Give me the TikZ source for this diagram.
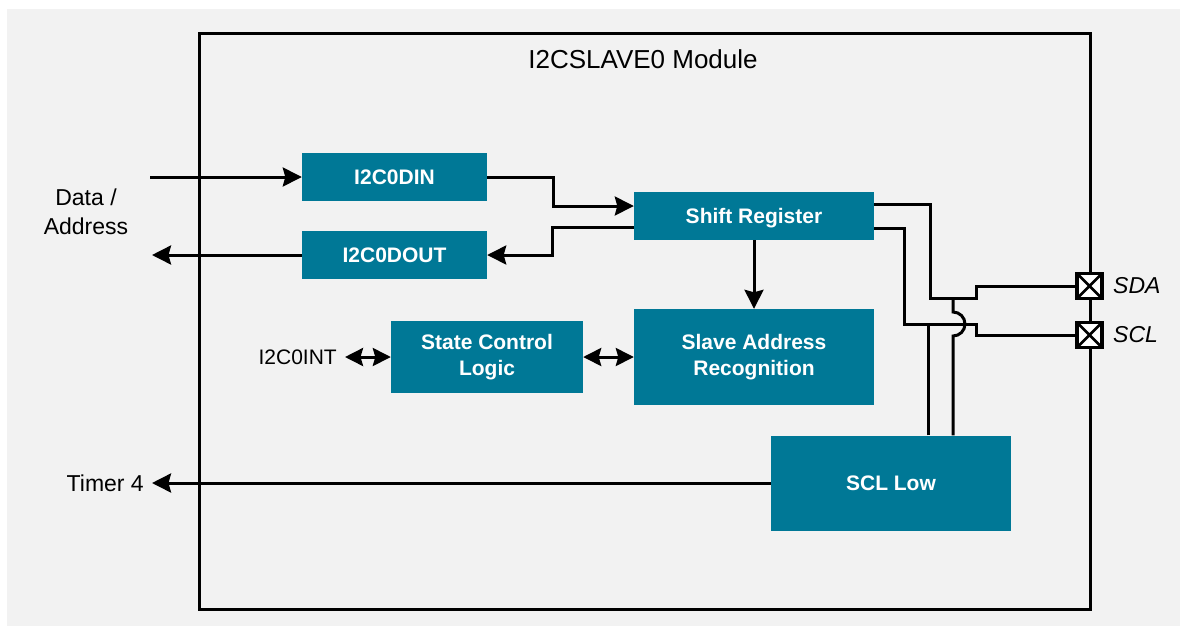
\documentclass[tikz,border=0pt]{standalone}
\usepackage{fontspec}
\setmainfont{Liberation Sans}
\usetikzlibrary{arrows.meta}
\definecolor{tiC}{RGB}{0,120,150}
\definecolor{bgG}{HTML}{F2F2F2}
\tikzset{
  box/.style={fill=tiC, text=white, font=\bfseries\fontsize{21}{26}\selectfont, align=center, inner sep=0pt},
  wire/.style={line width=3pt, line join=miter},
  arr/.style={wire, -{Stealth[length=19pt,width=19pt,inset=2.5pt]}},
  darr/.style={wire, {Stealth[length=18pt,width=18pt,inset=2.5pt]}-{Stealth[length=18pt,width=18pt,inset=2.5pt]}},
  lbl/.style={font=\fontsize{23}{29}\selectfont, align=center},
  pad/.style={draw, fill=white, line width=3.4pt, minimum size=25pt, inner sep=0pt,
    path picture={\draw[line width=2.6pt] (path picture bounding box.south west) -- (path picture bounding box.north east)
      (path picture bounding box.north west) -- (path picture bounding box.south east);}}
}
\begin{document}
\begin{tikzpicture}[x=1pt,y=-1pt]
\useasboundingbox (0,0) rectangle (1180,625);
\fill[white] (-5,-5) rectangle (1185,630);
\fill[bgG] (7,9) rectangle (1185,630);

% module
\node[draw, line width=3pt, minimum width=891pt, minimum height=576pt, inner sep=0pt] (module) at (644.5,321) {};
\node[font=\fontsize{26}{30}\selectfont] (title) at (643,59) {I2CSLAVE0 Module};

% blocks
\node[box, minimum width=185pt, minimum height=48pt] (din) at (394.5,177) {I2C0DIN};
\node[box, minimum width=185pt, minimum height=48pt] (dout) at (394.5,255) {I2C0DOUT};
\node[box, minimum width=240pt, minimum height=48pt, text depth=0pt] (shift) at (754,216) {Shift Register};
\node[box, minimum width=240pt, minimum height=96pt] (slave) at (754,357) {Slave Address\\Recognition};
\node[box, minimum width=192pt, minimum height=72pt] (state) at (487,357) {State Control\\Logic};
\node[box, minimum width=240pt, minimum height=95pt] (scllow) at (891,483) {SCL Low};

% labels
\node[lbl] (data) at (86,212) {Data /\\Address};
\node[font=\fontsize{21}{25}\selectfont, anchor=east, inner xsep=8pt] (int) at (345,357) {I2C0INT};
\node[lbl, anchor=east, inner xsep=8pt] (timer) at (152,483) {Timer 4};
\coordinate (din0) at (150,177);
\coordinate (dout0) at (152,255);

% connectors
\draw[arr] (din0) -- (din.west);
\draw[arr] (dout.west) -- (dout0);
\draw[arr] (din.east) -- ++(66,0) |- ([yshift=10pt]shift.west);
\draw[arr] ([yshift=-11pt]shift.west) -- ++(-81,0) |- (dout.east);
\draw[arr] (shift.south) -- (slave.north);
\draw[darr] (state.east) -- (slave.west);
\draw[darr] (int.east) -- (state.west);
\draw[arr] (scllow.west) -- (timer.east);

% pads
\node[pad] (sdapad) at (1089.5,286) {};
\node[pad] (sclpad) at (1089.5,335) {};
\node[font=\itshape\fontsize{23}{27}\selectfont, anchor=west, inner sep=0pt] (sdal) at (1113,286) {SDA};
\node[font=\itshape\fontsize{23}{27}\selectfont, anchor=west, inner sep=0pt] (scll) at (1113,335) {SCL};

% right wiring
\draw[wire] ([yshift=12pt]shift.east) -| (930,298) -- (976,298) |- (sdapad.west);
\draw[wire] ([yshift=-12pt]shift.east) -| (904,324) -- (976,324) |- (sclpad.west);
\draw[wire] ([xshift=37pt]scllow.north) -- (928,324);
\draw[wire] ([xshift=62pt]scllow.north) -- (953,336) arc[start angle=-90, end angle=90, radius=12pt] -- (953,298);
\end{tikzpicture}
\end{document}
